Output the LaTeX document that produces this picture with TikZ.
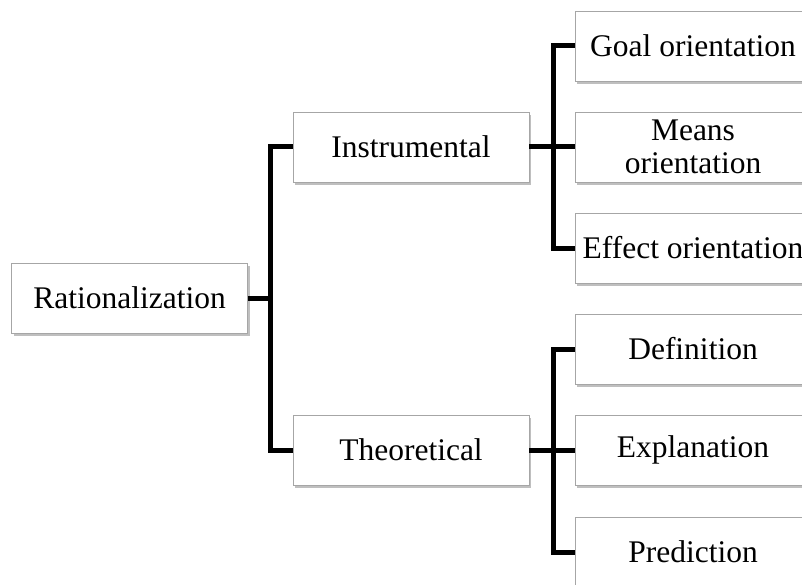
\documentclass[tikz,border=0pt]{standalone}
\usepackage{fontspec}
\setmainfont{Liberation Serif}
\usepackage{tikz}
\usetikzlibrary{calc,positioning,shadows}

\begin{document}
\begin{tikzpicture}[x=1pt,y=-1pt,
  box/.style={draw=gray!70,line width=0.8pt,fill=white,minimum width=236pt,minimum height=70pt,
    inner sep=0pt,align=center,font=\fontsize{31.5}{33}\selectfont,
    drop shadow={shadow xshift=2pt,shadow yshift=-3pt,opacity=0.5,fill=gray}},
  link/.style={line width=5pt,black}]
\useasboundingbox (0,0) rectangle (802,585);
\clip (0,0) rectangle (802,585);
% root and middle column
\node[box] (rat) at (129.5,298) {Rationalization};
\node[box] (instr) at (411,147) {Instrumental};
\node[box] (theo) at (411,450) {Theoretical};
% right column
\node[box] (goal) at (693,46) {Goal orientation};
\node[box] (means) at (693,147) {Means\\orientation};
\node[box] (effect) at (693,248) {Effect orientation};
\node[box] (defn) at (693,349) {Definition};
\node[box] (expl) at (693,450) {Explanation};
\node[box] (pred) at (693,552) {Prediction};
% connectors
\draw[link] (rat.east) -- ++(23,0) coordinate (j1);
\draw[link] (j1) |- (instr.west);
\draw[link] (j1) |- (theo.west);
\draw[link] (instr.east) -- ++(24,0) coordinate (j2);
\foreach \c in {goal,means,effect}{
  \draw[link] (j2) |- (\c.west);
}
\draw[link] (theo.east) -- ++(24,0) coordinate (j3);
\foreach \c in {defn,expl,pred}{
  \draw[link] (j3) |- (\c.west);
}
\end{tikzpicture}
\end{document}
